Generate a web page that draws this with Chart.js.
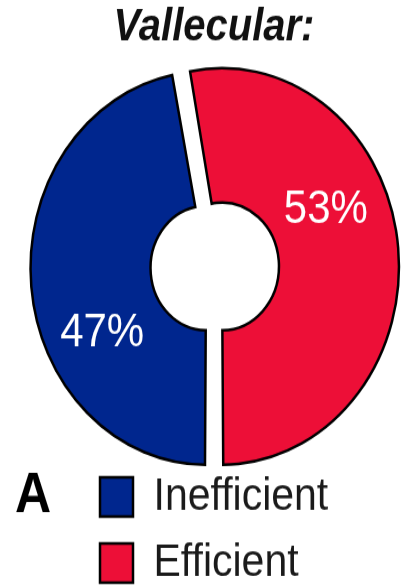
<!DOCTYPE html>
<html><head><meta charset="utf-8">
<script src="https://cdn.jsdelivr.net/npm/chart.js@4.4.0/dist/chart.umd.min.js"></script>
<style>html,body{margin:0;padding:0;background:#fff;overflow:hidden}canvas{display:block}</style>
</head><body>
<canvas id="c" width="403" height="523" style="width:403px;height:586px"></canvas>
<script>
const categories = ['Inefficient', 'Efficient'];
const values = [47, 53];
const colors = ['#00268E', '#ED0F37'];
const titleText = 'Vallecular:';
const panelLetter = 'A';

const SANS = "'Liberation Sans', Arial, Helvetica, sans-serif";

const placePlugin = {
  id: 'placeLegend',
  afterLayout(chart) {
    const lg = chart.legend;
    lg.left = 82;
    lg.top = 405;
    lg.bottom = lg.top + lg.height;
  },
  afterDraw(chart) {
    const ctx = chart.ctx;
    const meta = chart.getDatasetMeta(0);
    ctx.save();
    ctx.font = '42px ' + SANS;
    ctx.fillStyle = '#ffffff';
    ctx.textAlign = 'center';
    ctx.textBaseline = 'middle';
    meta.data.forEach((arc, i) => {
      const p = arc.getProps(['x', 'y', 'startAngle', 'endAngle', 'innerRadius', 'outerRadius']);
      const mid = (p.startAngle + p.endAngle) / 2;
      const shift = (arc.options.offset || 0) / 4;
      const a = mid - 22 * Math.PI / 180;
      const r = (p.innerRadius + p.outerRadius) / 2 + shift;
      ctx.fillText(values[i] + '%',
        p.x + Math.cos(mid) * shift + Math.cos(a) * r,
        p.y + Math.sin(mid) * shift + Math.sin(a) * r + 4);
    });
    const hb = chart.legend.legendHitBoxes[0];
    ctx.fillStyle = '#000000';
    ctx.font = 'bold 50px ' + SANS;
    ctx.textAlign = 'left';
    ctx.fillText(panelLetter, 15, hb.top + hb.height / 2);
    ctx.restore();
  }
};

new Chart(document.getElementById('c'), {
  type: 'doughnut',
  data: {
    labels: categories,
    datasets: [{
      data: values,
      backgroundColor: colors,
      borderColor: '#000000',
      borderWidth: 2.5,
      borderJoinStyle: 'miter',
      offset: 32,
      hoverOffset: 0
    }]
  },
  options: {
    responsive: false,
    devicePixelRatio: 1,
    animation: false,
    rotation: 180,
    radius: 169,
    cutout: '29%',
    layout: { padding: { left: 25 } },
    plugins: {
      tooltip: { enabled: false },
      title: {
        display: true,
        text: titleText,
        color: '#111111',
        font: { family: SANS, size: 40, weight: 'bold', style: 'italic', lineHeight: 1 },
        padding: { top: 5, bottom: 37 }
      },
      legend: {
        display: true,
        position: 'bottom',
        align: 'start',
        labels: {
          color: '#1a1a1a',
          font: { family: SANS, size: 41 },
          boxWidth: 33,
          boxHeight: 35,
          padding: 18
        }
      }
    }
  },
  plugins: [placePlugin]
});
</script>
</body></html>
